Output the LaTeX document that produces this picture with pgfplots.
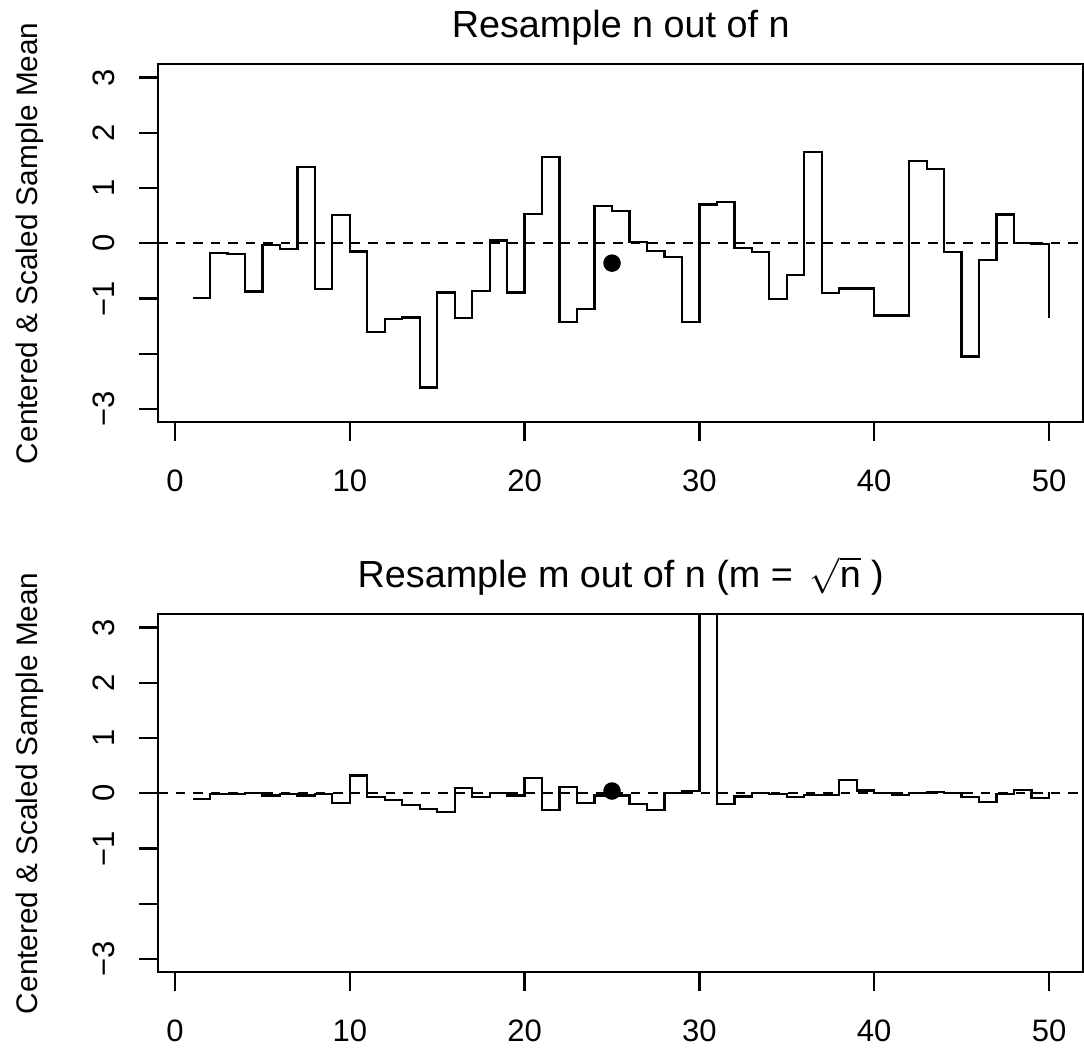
\documentclass[border=0pt]{standalone}
\usepackage{pgfplots}
\pgfplotsset{compat=1.18}
\usepackage{pgfplotstable}
\usepackage{fontspec}
\setmainfont{Liberation Sans}

% resample n out of n
\pgfplotstableread{
x y
1 -0.99
2 -0.17
3 -0.19
4 -0.875
5 -0.03
6 -0.11
7 1.385
8 -0.83
9 0.51
10 -0.15
11 -1.61
12 -1.37
13 -1.345
14 -2.61
15 -0.89
16 -1.36
17 -0.86
18 0.05
19 -0.89
20 0.535
21 1.56
22 -1.42
23 -1.19
24 0.675
25 0.59
26 0.02
27 -0.14
28 -0.25
29 -1.42
30 0.70
31 0.75
32 -0.09
33 -0.16
34 -1.01
35 -0.57
36 1.655
37 -0.905
38 -0.82
39 -0.82
40 -1.31
41 -1.31
42 1.49
43 1.35
44 -0.16
45 -2.05
46 -0.31
47 0.52
48 0.005
49 -0.01
50 -1.36
}\fulldata

% resample m out of n (x=30 runs off the top)
\pgfplotstableread{
x y
1 -0.11
2 -0.02
3 -0.01
4 0.0
5 -0.04
6 -0.01
7 -0.04
8 -0.01
9 -0.17
10 0.32
11 -0.07
12 -0.12
13 -0.21
14 -0.28
15 -0.34
16 0.10
17 -0.07
18 0.01
19 -0.04
20 0.27
21 -0.30
22 0.11
23 -0.18
24 -0.04
25 -0.04
26 -0.19
27 -0.31
28 0.0
29 0.04
30 30
31 -0.19
32 -0.06
33 0.0
34 -0.02
35 -0.07
36 -0.03
37 -0.03
38 0.24
39 0.05
40 0.01
41 -0.03
42 0.0
43 0.02
44 0.0
45 -0.07
46 -0.16
47 -0.02
48 0.06
49 -0.09
50 0.02
}\mdata

\pgfplotsset{
  rpanel/.style={
    scale only axis,
    width=370pt, height=143.2pt,
    anchor=south west,
    xmin=-0.96, xmax=51.96,
    ymin=-3.24, ymax=3.24,
    axis line style={line width=0.9pt},
    tick align=outside,
    major tick length=7.6pt,
    tick style={black, line width=0.9pt},
    xtick pos=left, ytick pos=left,
    xtick={0,10,20,30,40,50},
    xticklabels={0,10,20,30,40,50},
    ytick={-3,-2,-1,0,1,2,3},
    yticklabels={−3,,−1,0,1,2,3},
    tick label style={font=\fontsize{12.4}{15}\selectfont},
    xticklabel style={anchor=base, yshift=-20pt},
    yticklabel style={xshift=-10pt, rotate=90, anchor=base},
    ylabel={Centered \& Scaled Sample Mean},
    ylabel style={at={(axis description cs:-0.13,0.5)}, anchor=base, font=\fontsize{11.9}{14}\selectfont},
    title style={at={(0.5,1)}, anchor=base, yshift=4.5pt, font=\fontsize{15.1}{18}\selectfont},
  },
}

\begin{document}
\begin{tikzpicture}
\path[use as bounding box] (0,0) rectangle (433.6pt,420pt);

\begin{axis}[rpanel, at={(63.3pt,251.1pt)}, title={Resample n out of n}]
  \addplot[black, line width=0.9pt, dash pattern=on 3.8pt off 3.2pt] coordinates {(-0.96,0) (51.96,0)};
  \addplot[black, line width=0.9pt, const plot mark left] table[x=x, y=y] {\fulldata};
  \addplot[only marks, mark=*, mark size=3.3pt, black] coordinates {(25,-0.36)};
\end{axis}

\begin{axis}[rpanel, at={(63.3pt,31.1pt)}, title={Resample m out of n (m = \,$\sqrt{\mbox{n}}$\ )}]
  \addplot[black, line width=0.9pt, dash pattern=on 3.8pt off 3.2pt] coordinates {(-0.96,0) (51.96,0)};
  \addplot[black, line width=0.9pt, const plot mark left] table[x=x, y=y] {\mdata};
  \addplot[only marks, mark=*, mark size=3.3pt, black] coordinates {(25,0.04)};
\end{axis}
\end{tikzpicture}
\end{document}
